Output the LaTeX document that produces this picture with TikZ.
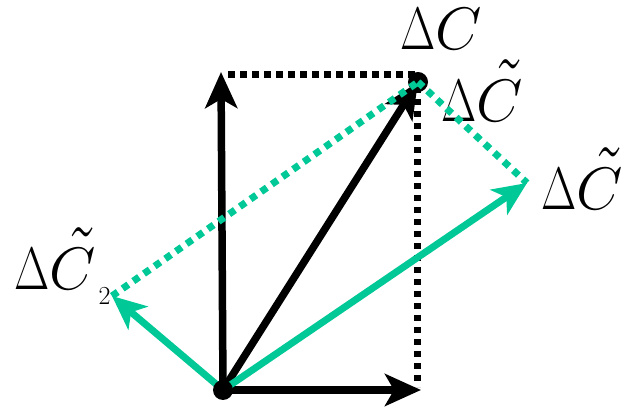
\RequirePackage{fix-cm}
\documentclass[tikz,border=0pt]{standalone}
\usepackage{graphicx}
\usetikzlibrary{arrows.meta}
\definecolor{vgreen}{RGB}{0,200,150}
\newcommand{\Dl}{\scalebox{0.76}[1]{$\Delta$}}
\newcommand{\Ct}{$C$\llap{\raisebox{-8pt}{\scalebox{1.1}[1.8]{\symbol{"02DC}}}\hspace{-2pt}}}
\tikzset{
  blackvec/.style={line width=7.5pt, black, -{Stealth[length=36pt,width=32pt,inset=9pt]}},
  greenvec/.style={line width=7pt, vgreen, -{Stealth[length=34pt,width=30pt,inset=9pt]}},
  blackdots/.style={line width=7pt, black, dash pattern=on 6.5pt off 5.5pt},
  greendots/.style={line width=7pt, vgreen, dash pattern=on 7pt off 6pt},
  lbl/.style={anchor=base west, inner sep=0pt, font=\fontsize{60}{70}\selectfont},
}
\newcommand{\subn}[1]{\hspace{3pt}\raisebox{-15pt}{\fontsize{26}{30}\selectfont #1}}
\begin{document}
\begin{tikzpicture}[x=1pt,y=1pt]
\useasboundingbox (0,0) rectangle (627,409);
\coordinate (O) at (223,19);
\coordinate (H) at (421,19);
\coordinate (V) at (221,337);
\coordinate (TL) at (228,334);
\coordinate (C) at (418,327);
\coordinate (TR) at (417,334);
\coordinate (BR) at (417,22);
\coordinate (C1) at (527,226);
\coordinate (C2) at (112,113);
% labels
\node[lbl] (lC) at (400,359) {\Dl$C$};
\node[lbl] (lCt) at (441,287) {\Dl\Ct};
\node[lbl] (lC1) at (541,199) {\Dl\Ct\subn{1}};
\node[lbl] (lC2) at (14,119) {\Dl\Ct\subn{2}};
% black rectangle
\draw[blackdots] (TL) -- (TR);
\draw[blackdots] (TR) -- (BR);
\draw[blackvec] (O) -- (H);
\draw[blackvec] (O) -- (V);
\draw[blackvec] (O) -- (C);
\fill (C) circle (10pt);
% green
\draw[greendots] (C2) -- (C);
\draw[greendots] (C) -- (C1);
\draw[greenvec] (O) -- (C1);
\draw[greenvec] (O) -- (C2);
\fill (O) circle (10pt);
\end{tikzpicture}
\end{document}
